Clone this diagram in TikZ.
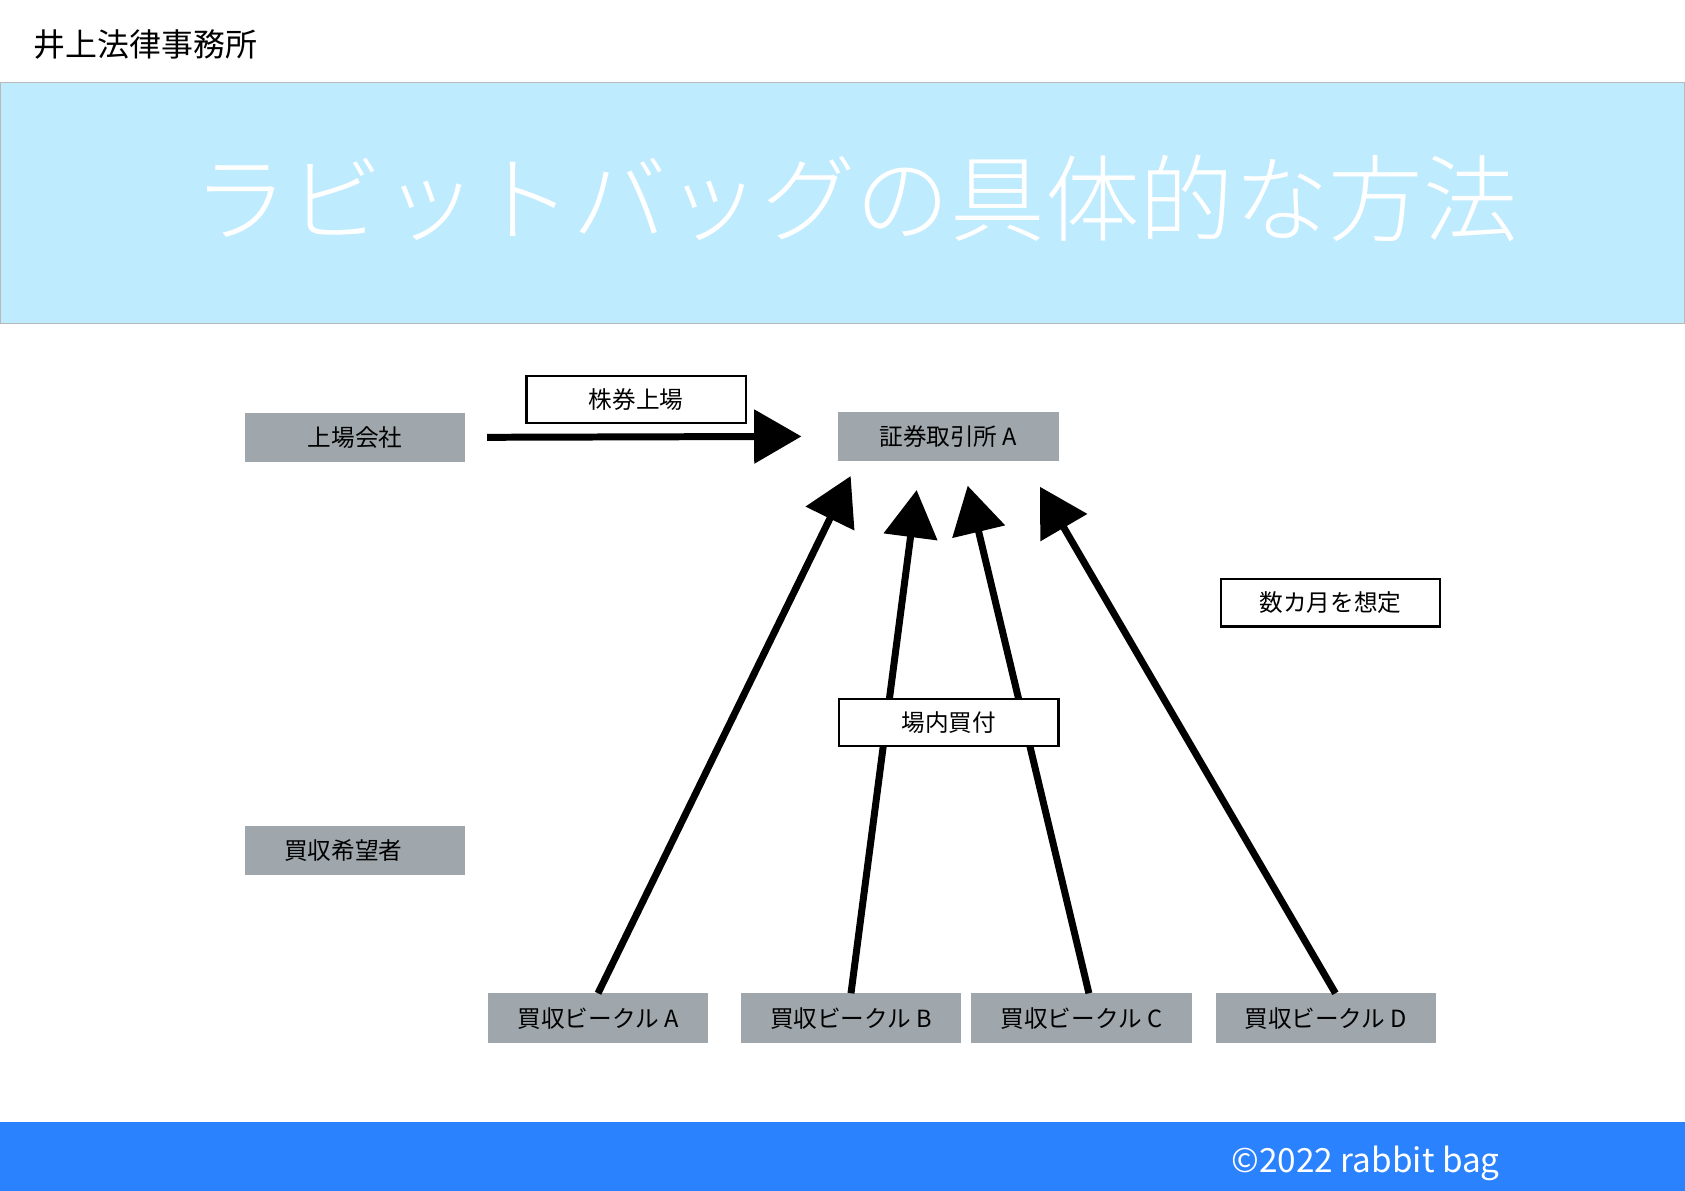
\documentclass[tikz,border=0pt]{standalone}
\usepackage{fontspec}
\setmainfont{Noto Sans CJK JP}
\newfontfamily\titlefont{Noto Sans CJK JP Light}
\usetikzlibrary{positioning,arrows.meta}
\definecolor{banner}{RGB}{190,235,253}
\definecolor{bannerline}{RGB}{185,185,185}
\definecolor{footer}{RGB}{42,130,255}
\definecolor{boxgray}{RGB}{160,167,172}
\newcommand{\sz}[1]{\fontsize{#1}{#1}\selectfont}

\begin{document}
\begin{tikzpicture}[x=1pt,y=-1pt,
  party/.style={fill=boxgray,minimum width=205pt,minimum height=46pt,inner sep=0pt,font=\sz{22pt}},
  note/.style={draw,line width=2pt,fill=white,minimum width=204pt,minimum height=44pt,inner sep=0pt,font=\sz{22pt}},
  flow/.style={line width=6.5pt,-{Triangle[length=44pt,width=49pt]}}
    ]
    \useasboundingbox (0,0) rectangle (1568,1108);
    % header, banner, footer
    \node[anchor=west,inner sep=0pt,font=\sz{29.7pt}] (office) at (31,41) {井上法律事務所};
    \filldraw[fill=banner,draw=bannerline,line width=1.2pt] (0,77) rectangle (1568,301);
    \node[text=white,inner sep=0pt,font=\titlefont\sz{88pt}] (title) at (796.5,185) {ラビットバッグの具体的な方法};
    \fill[footer] (0,1044) rectangle (1568,1108);
    \node[anchor=base west,text=white,inner sep=0pt,font=\sz{31pt}] (copy) at (1146,1091) {©2022 rabbit bag};
    % parties
    \node[party] (listed) at (330.5,407) {上場会社};
    \node[party] (exch) at (882.5,406) {証券取引所 A};
    \node[party] (buyer) at (330.5,791.5) {買収希望者\rule{22pt}{0pt}};
    \node[party] (va) at (556.5,947.5) {買収ビークル A};
    \node[party,right=30pt of va] (vb) {買収ビークル B};
    \node[party,right=9pt of vb] (vc) {買収ビークル C};
    \node[party,right=22pt of vc] (vd) {買収ビークル D};
    % arrow tips below the exchange
    \coordinate (ta) at (791.6,443);
    \coordinate (tb) at (853,456);
    \coordinate (tc) at (900.5,452);
    \coordinate (td) at (967.8,453);
    \draw[flow,shorten <=20pt,shorten >=34pt] (listed.east) -- (exch.west);
    \draw[flow] (va.north) -- (ta);
    \draw[flow] (vb.north) -- (tb);
    \draw[flow] ([xshift=7pt]vc.north) -- (tc);
    \draw[flow] ([xshift=9pt]vd.north) -- (td);
    % labels
    \node[note] (listing) at (592,372) {株券上場};
    \node[note] (market) at (883,672.5) {場内買付};
    \node[note] (months) at (1238,561) {数カ月を想定};
\end{tikzpicture}
\end{document}
